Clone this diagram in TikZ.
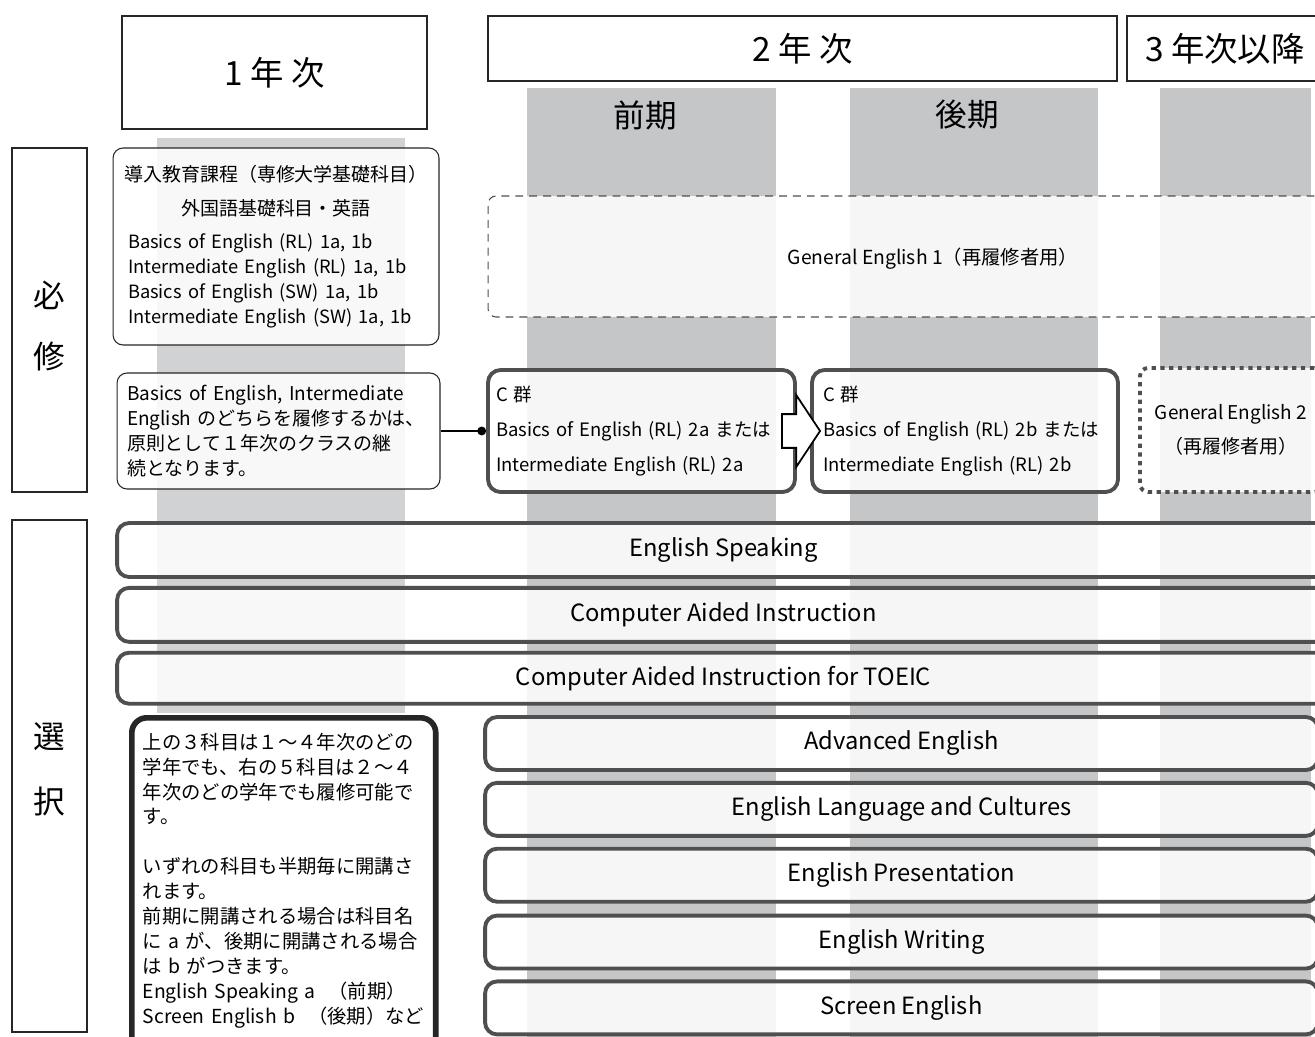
\documentclass[tikz,border=0pt]{standalone}
\usepackage{fontspec}
\setmainfont{Noto Sans CJK JP}
\usetikzlibrary{positioning,shapes,arrows.meta}
\definecolor{columngray}{HTML}{C5C6C8}
\definecolor{firstgray}{HTML}{D1D2D4}
\definecolor{edgegray}{HTML}{4F4F4F}
\tikzstyle{yearbox} = [rectangle, text centered, draw=black!85, line width=0.8pt, fill=white, font=\fontsize{19}{22}\selectfont]
\tikzstyle{termlabel} = [text centered, font=\fontsize{18}{22}\selectfont]
\tikzstyle{sidebox} = [rectangle, align=center, draw=black!85, line width=0.7pt, fill=white, minimum width=1.5cm, font=\fontsize{18}{34.6}\selectfont]
\tikzstyle{infobox} = [rectangle, rounded corners=0.2cm, align=left, draw=black!85, line width=0.6pt, fill=white, fill opacity=0.86, text opacity=1, font=\fontsize{10.8}{14.2}\selectfont]
\tikzstyle{repeatbox} = [rectangle, rounded corners=0.16cm, align=center, draw=edgegray, line width=0.6pt, dash pattern=on 4.5pt off 3.4pt, fill=white, fill opacity=0.86, text opacity=1, font=\fontsize{11}{19.3}\selectfont]
\tikzstyle{repeatdots} = [rectangle, rounded corners=0.16cm, align=center, draw=edgegray, line width=2.2pt, dash pattern=on 2.4pt off 2.6pt, fill=white, fill opacity=0.86, text opacity=1, font=\fontsize{10.8}{19.3}\selectfont]
\tikzstyle{groupbox} = [rectangle, rounded corners=0.25cm, align=left, draw=edgegray, line width=2.2pt, fill=white, fill opacity=0.86, text opacity=1, font=\fontsize{10.5}{19.8}\selectfont]
\tikzstyle{electivebox} = [rectangle, rounded corners=0.24cm, text centered, draw=edgegray, line width=2.2pt, fill=white, fill opacity=0.86, text opacity=1, font=\fontsize{13.5}{16}\selectfont]
\tikzstyle{notebox} = [rectangle, rounded corners=0.3cm, align=left, draw=black!85, line width=3.2pt, fill=white, font=\fontsize{11}{14.2}\selectfont]
\tikzstyle{blockarrow} = [single arrow, draw=black, line width=1pt, fill=white, inner xsep=0pt, inner ysep=0.32cm, minimum height=0.76cm, minimum width=1.4cm, single arrow head extend=0.38cm, single arrow tip angle=113]
\tikzstyle{linkline} = [-{Circle[length=5pt]}, line width=0.7pt]

\begin{document}
\begin{tikzpicture}[x=0.02cm,y=-0.02cm]
	\useasboundingbox (0,0) rectangle (1315,1037);
	\fill[white] (0,0) rectangle (1315,1037);
	
	% semester columns
	\fill[firstgray] (157,138) rectangle (405,713);
	\foreach \xa/\xb in {527/776, 850/1098, 1160/1311}
		\fill[columngray] (\xa,88) rectangle (\xb,1045);
	
	\node (year1) [yearbox, minimum width=6.1cm, minimum height=2.26cm] at (274.5,72.5) {\rule{0pt}{5pt}1 年 次};
	\node (year2) [yearbox, minimum width=12.58cm, minimum height=1.3cm] at (802.5,48.5) {2 年 次};
	\node (year3) [yearbox, minimum width=3.92cm, minimum height=1.3cm] at (1225,48.5) {3 年次以降};
	\node (first-half) [termlabel] at (645,115) {前期};
	\node (second-half) [termlabel] at (967,115) {後期};
	
	\node (required) [sidebox, minimum height=6.88cm] at (49.5,320) {\rule{0pt}{22pt}必\\修};
	\node (elective) [sidebox, minimum height=10.24cm] at (49.5,776) {選\\[2.5pt]択\rule[-9pt]{0pt}{9pt}};
	
	\node (intro) [infobox, minimum width=6.52cm, minimum height=3.94cm, text width=5.92cm, inner xsep=0.3cm] at (276,246.5)
		{\makebox[\linewidth]{導入教育課程（専修大学基礎科目）}\\[5.6pt]
		 \makebox[\linewidth]{外国語基礎科目・英語}\\[4.5pt]
		 \fontsize{10.4}{14.2}\selectfont
		 Basics of English (RL) 1a, 1b\\
		 Intermediate English (RL) 1a, 1b\\
		 Basics of English (SW) 1a, 1b\\
		 Intermediate English (SW) 1a, 1b};
	\node (general1) [repeatbox, minimum width=17.8cm, minimum height=2.42cm] at (933,256.5) {\rule{0pt}{12pt}General English 1（再履修者用）};
	
	\node (continue-note) [infobox, minimum width=6.46cm, minimum height=2.32cm, text width=6.06cm, inner xsep=0.2cm] at (278.5,431)
		{Basics of English, Intermediate\\
		 English のどちらを履修するかは、\\
		 原則として１年次のクラスの継\\
		 続となります。};
	\node (group-a) [groupbox, minimum width=6.14cm, minimum height=2.44cm, text width=5.82cm, inner xsep=0.16cm] at (641.5,431)
		{C 群\\Basics of English (RL) 2a または\\Intermediate English (RL) 2a};
	\node (group-b) [groupbox, minimum width=6.12cm, minimum height=2.44cm, text width=5.68cm, inner xsep=0.22cm] at (965,431)
		{C 群\\Basics of English (RL) 2b または\\Intermediate English (RL) 2b};
	\node (general2) [repeatdots, minimum width=3.64cm, minimum height=2.48cm] at (1231,430) {General English 2\\（再履修者用）};
	
	\draw [linkline] (continue-note.east) -- (group-a.west);
	\node (shift) [blockarrow, anchor=tip] at ([xshift=0.22cm]group-b.west) {};
	
	% electives, all years
	\node (speaking) [electivebox, minimum width=24.26cm, minimum height=1.08cm] at (723.5,550) {English Speaking};
	\node (cai) [electivebox, minimum width=24.26cm, minimum height=1.08cm, below=0.14cm of speaking] {Computer Aided Instruction};
	\node (cai-toeic) [electivebox, minimum width=24.26cm, minimum height=1.02cm, below=0.14cm of cai] {Computer Aided Instruction for TOEIC};
	
	% electives, from year 2
	\node (advanced) [electivebox, minimum width=16.66cm, minimum height=1.06cm] at (901.5,743.5) {Advanced English};
	\node (cultures) [electivebox, minimum width=16.66cm, minimum height=1.06cm, below=0.18cm of advanced] {English Language and Cultures};
	\node (presentation) [electivebox, minimum width=16.66cm, minimum height=1.06cm, below=0.18cm of cultures] {English Presentation};
	\node (writing) [electivebox, minimum width=16.66cm, minimum height=1.06cm, below=0.2cm of presentation] {English Writing};
	\node (screen) [electivebox, minimum width=16.66cm, minimum height=1.06cm, below=0.18cm of writing] {Screen English};
	
	\node (elective-note) [notebox, anchor=north west, minimum width=6.08cm, text width=5.64cm, inner xsep=0.22cm, inner ysep=0.3cm] at (129,715)
		{上の３科目は１～４年次のどの\\
		 学年でも、右の５科目は２～４\\
		 年次のどの学年でも履修可能で\\
		 す。\\[14.2pt]
		 いずれの科目も半期毎に開講さ\\
		 れます。\\
		 前期に開講される場合は科目名\\
		 に a が、後期に開講される場合\\
		 は b がつきます。\\
		 English Speaking a \ （前期）\\
		 Screen English b \ （後期）など\\
		 \mbox{}};
\end{tikzpicture}
\end{document}
